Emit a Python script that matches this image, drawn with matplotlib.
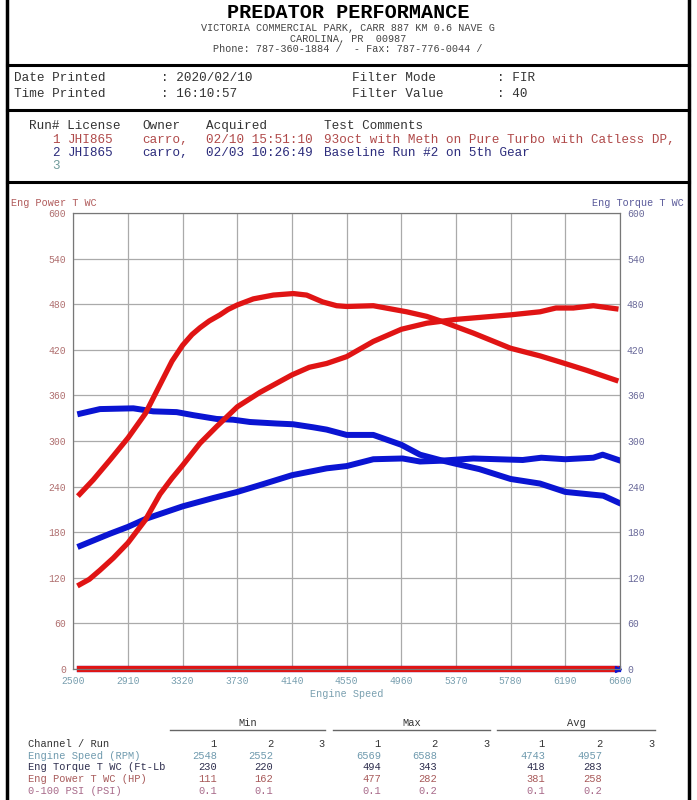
import matplotlib.pyplot as plt
from matplotlib.lines import Line2D

# run 1 (red) - 93oct with meth
rpm_tq1 = [2548, 2650, 2775, 2910, 3040, 3150, 3240, 3320, 3390, 3450, 3520, 3600, 3660, 3730,
           3850, 4000, 4150, 4250, 4370, 4475, 4550, 4750, 5000, 5150, 5270, 5500, 5780, 6000,
           6150, 6350, 6569]
torque1 = [230, 249, 275, 304, 336, 374, 405, 426, 440, 449, 458, 466, 473, 479,
           487, 492, 494, 492, 483, 478, 477, 478, 470, 464, 457, 442, 422, 412,
           404, 393, 380]
rpm_hp1 = [2548, 2620, 2700, 2800, 2910, 3040, 3150, 3240, 3320, 3450, 3575, 3730, 3900, 4140,
           4270, 4400, 4550, 4750, 4960, 5150, 5370, 5780, 6000, 6120, 6250, 6400, 6569]
power1 = [111, 118, 130, 146, 166, 196, 230, 251, 268, 297, 319, 345, 364, 387,
          397, 402, 411, 431, 447, 455, 460, 466, 470, 475, 475, 478, 474]

# run 2 (blue) - baseline
rpm_tq2 = [2552, 2700, 2950, 3100, 3275, 3400, 3575, 3700, 3825, 4025, 4150, 4300, 4400, 4550,
           4750, 4960, 5100, 5250, 5370, 5545, 5780, 6000, 6190, 6475, 6588]
torque2 = [336, 342, 343, 339, 338, 334, 329, 328, 325, 323, 322, 318, 315, 308,
           308, 295, 282, 275, 270, 263, 250, 244, 233, 228, 219]
rpm_hp2 = [2552, 2775, 2910, 3050, 3320, 3550, 3730, 3900, 4140, 4400, 4550, 4750, 4970, 5100,
           5250, 5500, 5870, 6010, 6190, 6400, 6470, 6588]
power2 = [162, 178, 187, 198, 214, 225, 233, 242, 255, 264, 267, 276, 277, 273,
          274, 277, 275, 278, 276, 278, 282, 275]

# 0-100 psi channel
psi_rpm1 = [2548, 6569]
psi1 = [0.1, 0.1]
psi_rpm2 = [2552, 6588]
psi2 = [0.2, 0.2]

x_ticks = [2500, 2910, 3320, 3730, 4140, 4550, 4960, 5370, 5780, 6190, 6600]
y_ticks = [0, 60, 120, 180, 240, 300, 360, 420, 480, 540, 600]

channels = ["Engine Speed (RPM)", "Eng Torque T WC (Ft-Lb", "Eng Power T WC (HP)", "0-100 PSI (PSI)"]
min_vals = [["2548", "2552"], ["230", "220"], ["111", "162"], ["0.1", "0.1"]]
max_vals = [["6569", "6588"], ["494", "343"], ["477", "282"], ["0.1", "0.2"]]
avg_vals = [["4743", "4957"], ["418", "283"], ["381", "258"], ["0.1", "0.2"]]
channel_colors = ["#6f9aae", "#2e2e4e", "#a85a5a", "#a86a8a"]

MONO = "Liberation Mono"
RED = "#e01414"
BLUE = "#0a14d2"
W, H = 697, 800

fig = plt.figure(figsize=(6.97, 8.0), dpi=100)


def ftext(x, y, s, **kw):
    kw.setdefault("family", MONO)
    kw.setdefault("va", "center")
    fig.text(x / W, 1 - y / H, s, **kw)


def hline(x0, x1, y, lw=2.2, color="black"):
    fig.add_artist(Line2D([x0 / W, x1 / W], [1 - y / H, 1 - y / H], color=color, lw=lw))


# frame
fig.add_artist(Line2D([7 / W, 7 / W], [0, 1], color="black", lw=2.5))
fig.add_artist(Line2D([689 / W, 689 / W], [0, 1], color="black", lw=2.5))
hline(7, 689, 65)
hline(7, 689, 110)
hline(7, 689, 182)

# header
ftext(348, 12, "PREDATOR PERFORMANCE", size=14.5, weight="bold", ha="center")
ftext(348, 28, "VICTORIA COMMERCIAL PARK, CARR 887 KM 0.6 NAVE G", size=7.3, ha="center", color="#444444")
ftext(348, 39, "CAROLINA, PR  00987", size=7.3, ha="center", color="#444444")
ftext(348, 49, "Phone: 787-360-1884 /  - Fax: 787-776-0044 /", size=7.3, ha="center", color="#444444")

ftext(14, 78, "Date Printed", size=9.1, color="#333333")
ftext(161, 78, ": 2020/02/10", size=9.1, color="#333333")
ftext(352, 78, "Filter Mode", size=9.1, color="#333333")
ftext(497, 78, ": FIR", size=9.1, color="#333333")
ftext(14, 94, "Time Printed", size=9.1, color="#333333")
ftext(161, 94, ": 16:10:57", size=9.1, color="#333333")
ftext(352, 94, "Filter Value", size=9.1, color="#333333")
ftext(497, 94, ": 40", size=9.1, color="#333333")

ftext(29, 126, "Run# License", size=9.1, color="#333333")
ftext(142, 126, "Owner", size=9.1, color="#333333")
ftext(206, 126, "Acquired", size=9.1, color="#333333")
ftext(324, 126, "Test Comments", size=9.1, color="#333333")
run_rows = [
    ("1", "JHI865", "carro,", "02/10 15:51:10", "93oct with Meth on Pure Turbo with Catless DP,", "#b04a4a"),
    ("2", "JHI865", "carro,", "02/03 10:26:49", "Baseline Run #2 on 5th Gear", "#2c2c7c"),
    ("3", "", "", "", "", "#6f9a9a"),
]
for i, (num, lic, owner, acq, comment, col) in enumerate(run_rows):
    y = 140 + i * 13
    ftext(60, y, num, size=9.1, color=col, ha="right")
    ftext(68, y, lic, size=9.1, color=col)
    ftext(142, y, owner, size=9.1, color=col)
    ftext(206, y, acq, size=9.1, color=col)
    ftext(324, y, comment, size=9.1, color=col)

# chart
ax = fig.add_axes([73.3 / W, 1 - 669 / H, (620 - 73.3) / W, (669 - 213) / H])
ax2 = ax.twinx()

ax.plot(rpm_hp2, power2, color=BLUE, lw=4.3, solid_joinstyle="round")
ax.plot(rpm_tq2, torque2, color=BLUE, lw=4.3, solid_joinstyle="round")
ax.plot(rpm_hp1, power1, color=RED, lw=3.8, solid_joinstyle="round")
ax.plot(rpm_tq1, torque1, color=RED, lw=3.8, solid_joinstyle="round")
ax.plot(psi_rpm2, psi2, color=BLUE, lw=4.5, clip_on=False)
ax.plot(psi_rpm1, psi1, color=RED, lw=4.5, clip_on=False)
ax.plot([psi_rpm2[-1]], [psi2[-1]], marker=">", color=BLUE, ms=5, clip_on=False)

for a in (ax, ax2):
    a.set_xlim(2500, 6600)
    a.set_ylim(0, 600)
    a.set_yticks(y_ticks)
    for sp in a.spines.values():
        sp.set_color("#777777")
        sp.set_linewidth(0.8)

ax.set_xticks(x_ticks)
ax.grid(True, color="#aaaaaa", lw=0.9)
ax.set_axisbelow(True)
ax.tick_params(axis="both", length=0, labelsize=7)
ax.tick_params(axis="y", labelcolor="#b07070", pad=5)
ax.tick_params(axis="x", labelcolor="#7aa0b0", pad=5)
ax2.tick_params(axis="y", length=0, labelsize=7, labelcolor="#6a6a9a", pad=5)
for lbl in ax.get_xticklabels() + ax.get_yticklabels() + ax2.get_yticklabels():
    lbl.set_family(MONO)
ax.set_xlabel("Engine Speed", family=MONO, size=7.3, color="#7aa0b0", labelpad=2)

ftext(11, 203, "Eng Power T WC", size=7.3, color="#b05a5a")
ftext(684, 203, "Eng Torque T WC", size=7.3, color="#5a5a9a", ha="right")

# statistics table
for label, x0, x1 in [("Min", 170, 325), ("Max", 333, 490), ("Avg", 497, 655)]:
    ftext((x0 + x1) / 2, 723, label, size=7.5, ha="center", color="#333333")
    hline(x0, x1, 730, lw=1.0, color="#666666")

col_x = [217, 273, 325, 381, 437, 490, 545, 602, 655]
ftext(28, 744, "Channel / Run", size=7.5, color="#333333")
for j, cx in enumerate(col_x):
    ftext(cx, 744, str(j % 3 + 1), size=7.5, ha="right", color="#333333")
for i, name in enumerate(channels):
    y = 756 + i * 11.5
    col = channel_colors[i]
    ftext(28, y, name, size=7.5, color=col)
    vals = min_vals[i] + max_vals[i] + avg_vals[i]
    xs = [col_x[0], col_x[1], col_x[3], col_x[4], col_x[6], col_x[7]]
    for cx, v in zip(xs, vals):
        ftext(cx, y, v, size=7.5, ha="right", color=col)

fig.savefig("out.png", dpi=100)
